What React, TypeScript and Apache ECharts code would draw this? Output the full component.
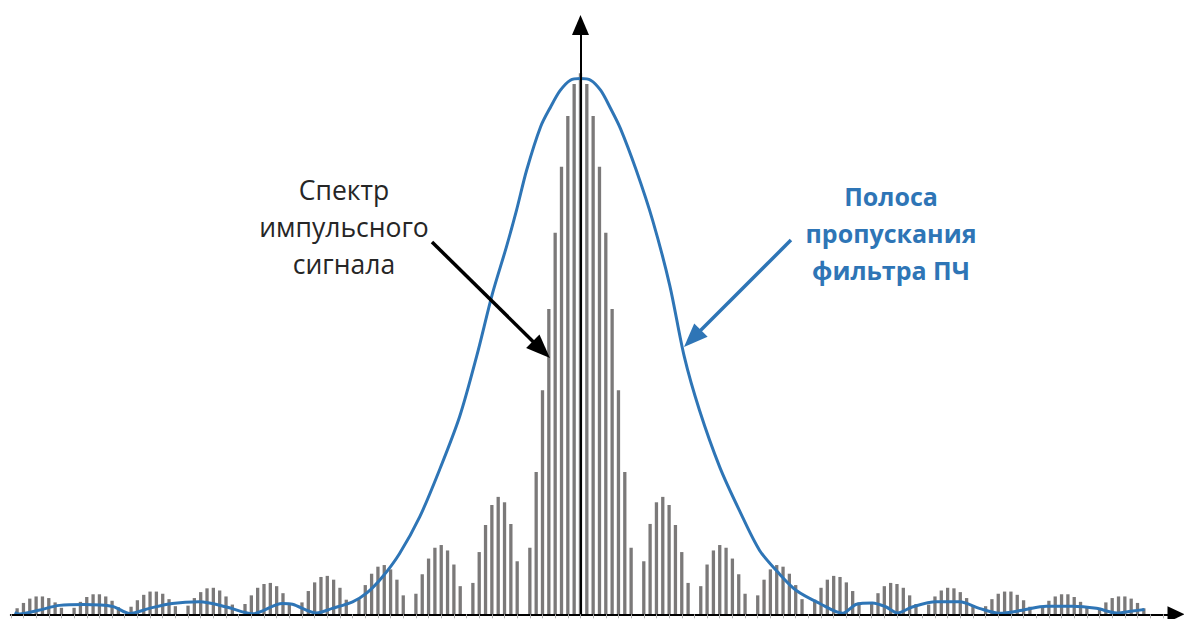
import React, { useEffect, useRef } from "react";
import * as echarts from "echarts";

// Spectrum of the pulse signal: harmonic index from -90 to 90 (relative amplitude, %)
const spectrumStart = -90;
const spectrum = [
  0, 1.1, 2.1, 2.9, 3.3, 3.3, 3.0, 2.2, 1.2,
  0, 1.2, 2.3, 3.2, 3.7, 3.7, 3.3, 2.5, 1.3,
  0, 1.4, 2.6, 3.6, 4.2, 4.2, 3.8, 2.8, 1.5,
  0, 1.6, 3.0, 4.1, 4.8, 4.9, 4.4, 3.3, 1.8,
  0, 1.9, 3.5, 4.9, 5.6, 5.8, 5.2, 3.9, 2.1,
  0, 2.2, 4.3, 5.9, 6.9, 7.1, 6.4, 4.9, 2.7,
  0, 2.8, 5.4, 7.5, 8.8, 9.1, 8.3, 6.4, 3.5,
  0, 3.8, 7.4, 10.3, 12.3, 12.8, 11.8, 9.2, 5.2,
  0, 5.8, 11.5, 16.5, 20.2, 21.7, 20.7, 16.7, 9.8,
  0, 12.3, 26.3, 41.4, 56.4, 70.5, 82.7, 92.1, 98.0,
  100,
  98.0, 92.1, 82.7, 70.5, 56.4, 41.4, 26.3, 12.3, 0,
  9.8, 16.7, 20.7, 21.7, 20.2, 16.5, 11.5, 5.8, 0,
  5.2, 9.2, 11.8, 12.8, 12.3, 10.3, 7.4, 3.8, 0,
  3.5, 6.4, 8.3, 9.1, 8.8, 7.5, 5.4, 2.8, 0,
  2.7, 4.9, 6.4, 7.1, 6.9, 5.9, 4.3, 2.2, 0,
  2.1, 3.9, 5.2, 5.8, 5.6, 4.9, 3.5, 1.9, 0,
  1.8, 3.3, 4.4, 4.9, 4.8, 4.1, 3.0, 1.6, 0,
  1.5, 2.8, 3.8, 4.2, 4.2, 3.6, 2.6, 1.4, 0,
  1.3, 2.5, 3.3, 3.7, 3.7, 3.2, 2.3, 1.2, 0,
  1.2, 2.2, 3.0, 3.3, 3.3, 2.9, 2.1, 1.1, 0,
];

// IF filter passband curve
const filterX = [
  -89.4, -88.6, -85.6, -82.3, -78.4, -73.9, -71.2, -68.1, -64.5, -60.2, -55.9, -51.8,
  -47.1, -45.5, -41.7, -39.2, -36.0, -33.8, -31.3, -28.6, -25.4, -22.3, -19.1, -16.4,
  -13.9, -11.7, -10.1, -8.5, -6.3, -4.7, -3.2, -1.6, 0,
  1.6, 3.2, 4.7, 6.3, 8.8, 11.4, 14.1, 16.4, 18.8, 22.0, 25.1, 28.3, 31.4, 34.1,
  37.8, 41.4, 43.6, 46.1, 48.3, 50.1, 52.4, 56.2, 59.9, 63.0, 66.2, 69.8, 73.6, 77.7,
  81.5, 84.7, 87.2, 89.1,
];
const filterY = [
  0.3, 0.05, 0.75, 1.65, 1.8, 1.45, 0.15, 1.1, 2.0, 2.3, 1.35, 0.1,
  2.0, 1.85, 0.25, 1.1, 2.3, 3.9, 6.9, 11.2, 18.0, 26.6, 36.5, 47.7,
  59.3, 67.9, 74.7, 82.1, 90.1, 93.8, 96.8, 98.7, 99.0,
  98.7, 96.8, 93.6, 89.8, 82.1, 72.8, 60.8, 47.6, 37.7, 27.2, 19.2, 11.8, 7.5, 4.4,
  2.0, 0.2, 1.85, 2.1, 1.35, 0.25, 1.35, 2.3, 2.3, 1.1, 0.2, 0.75, 1.5, 1.5,
  1.1, 0.25, 0.6, 0.9,
];

// annotation arrows (data coordinates): [startX, startY, headCenterX, headCenterY]
const spectrumArrow = [-23.46, 68.8, -6.18, 48.9];
const filterArrow = [33.25, 69.15, 17.69, 50.95];

const spectrumLabel = "Спектр\nимпульсного\nсигнала";
const filterLabel = "Полоса\nпропускания\nфильтра ПЧ";

const BLUE = "#2e75b6";

export default function App() {
  const ref = useRef<HTMLDivElement>(null);
  useEffect(() => {
    const chart = echarts.init(ref.current!, null, { renderer: "svg" });
    const barData = spectrum.map((v, k) => [spectrumStart + k, v]);
    const lineData = filterX.map((x, k) => [x, filterY[k]]);
    chart.setOption({
      animation: false,
      backgroundColor: "#ffffff",
      grid: { left: 10.8, right: 8, top: 25, bottom: 4.7, containLabel: false },
      xAxis: {
        type: "value",
        min: -90,
        max: 94.08,
        interval: 2,
        z: 5,
        axisLine: {
          show: true,
          onZero: true,
          symbol: ["none", "triangle"],
          symbolSize: [16, 17],
          lineStyle: { color: "#000", width: 2 },
        },
        axisTick: { show: true, length: 4, lineStyle: { color: "#b4b4b4", width: 1 } },
        axisLabel: { show: false },
        splitLine: { show: false },
      },
      yAxis: {
        type: "value",
        min: 0,
        max: 108.9,
        z: 5,
        axisLine: {
          show: true,
          onZero: true,
          symbol: ["none", "triangle"],
          symbolSize: [17, 20],
          lineStyle: { color: "#000", width: 2 },
        },
        axisTick: { show: false },
        axisLabel: { show: false },
        splitLine: { show: false },
      },
      series: [
        {
          type: "bar",
          data: barData,
          barWidth: 3.3,
          silent: true,
          itemStyle: { color: "#7b7979" },
          z: 2,
        },
        {
          type: "line",
          data: lineData,
          smooth: 0.3,
          showSymbol: false,
          silent: true,
          lineStyle: { color: BLUE, width: 3 },
          z: 3,
          markLine: {
            silent: true,
            symbol: ["none", "triangle"],
            symbolSize: [19, 24],
            label: { show: false },
            animation: false,
            lineStyle: { width: 3.5, type: "solid" },
            data: [
              [
                { coord: [spectrumArrow[0], spectrumArrow[1]], lineStyle: { color: "#000", width: 3.5, type: "solid" } },
                { coord: [spectrumArrow[2], spectrumArrow[3]] },
              ],
              [
                { coord: [filterArrow[0], filterArrow[1]], lineStyle: { color: BLUE, width: 3.5, type: "solid" } },
                { coord: [filterArrow[2], filterArrow[3]] },
              ],
            ],
          },
        },
      ],
      graphic: [
        {
          type: "text",
          x: 344,
          y: 171.5,
          silent: true,
          style: {
            text: spectrumLabel,
            fill: "#262626",
            fontSize: 26.5,
            fontFamily: "Open Sans",
            fontWeight: "normal",
            align: "center",
            verticalAlign: "top",
            lineHeight: 37,
          },
        },
        {
          type: "text",
          x: 891,
          y: 177.5,
          silent: true,
          style: {
            text: filterLabel,
            fill: BLUE,
            fontSize: 25,
            fontFamily: "Open Sans",
            fontWeight: "bold",
            align: "center",
            verticalAlign: "top",
            lineHeight: 37,
          },
        },
      ],
    });
    return () => chart.dispose();
  }, []);
  return (
    <div
      ref={ref}
      style={{ position: "fixed", left: 0, top: 0, width: 1184, height: 619, background: "#fff" }}
    />
  );
}
